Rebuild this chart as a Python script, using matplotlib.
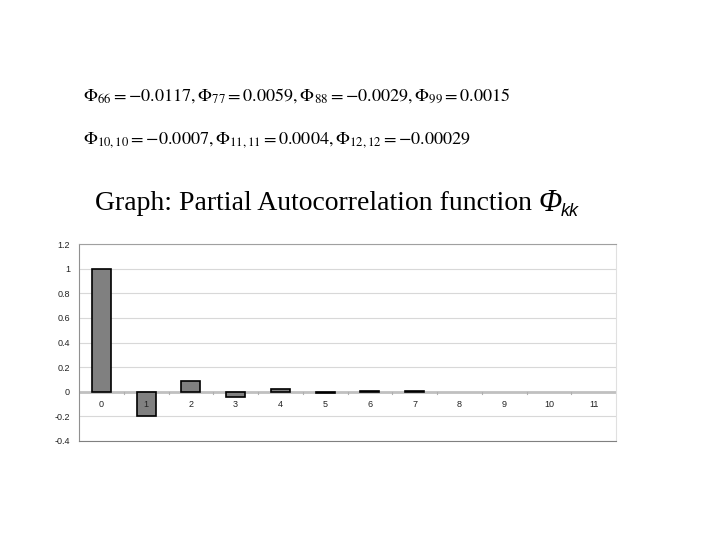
import matplotlib
matplotlib.use('Agg')
import matplotlib.pyplot as plt
import numpy as np

plt.rcParams['mathtext.fontset'] = 'stix'

# lags and partial autocorrelation values
lags = ['0', '1', '2', '3', '4', '5', '6', '7', '8', '9', '10', '11']
pacf = [1.0, -0.2, 0.09, -0.045, 0.022, -0.0117, 0.0059, 0.0029, 0, 0, 0, 0]
yticks = [-0.4, -0.2, 0, 0.2, 0.4, 0.6, 0.8, 1, 1.2]

line1 = r'$\Phi_{66} = -0.0117, \Phi_{77} = 0.0059, \Phi_{88} = -0.0029, \Phi_{99} = 0.0015$'
line2 = r'$\Phi_{10,10} = -0.0007, \Phi_{11,11} = 0.0004, \Phi_{12,12} = -0.00029$'

fig = plt.figure(figsize=(7.2, 5.4), dpi=100)

fig.text(83 / 720, 1 - 96 / 540, line1, fontsize=13.1, va='center', ha='left')
fig.text(83 / 720, 1 - 140 / 540, line2, fontsize=13.1, va='center', ha='left')
title = fig.text(95 / 720, 1 - 203 / 540, 'Graph: Partial Autocorrelation function',
                 fontsize=20, family='Liberation Serif', va='center', ha='left')
fig.canvas.draw()
bb = title.get_window_extent()
phi = fig.text((bb.x1 + 6) / 720, 1 - 203 / 540, 'Φ', fontsize=22, style='italic',
               family='Liberation Serif', va='center', ha='left')
fig.canvas.draw()
pb = phi.get_window_extent()
fig.text((pb.x1 - 1) / 720, 1 - 212 / 540, 'kk', fontsize=13, style='italic',
         family='Liberation Sans', va='center', ha='left')

# axes box in pixels: x 79..616, y 244..441
ax = fig.add_axes([79 / 720, 1 - 441 / 540, (616 - 79) / 720, (441 - 244) / 540])

x = np.arange(len(lags))
lw = [1.2 if v != 0 else 0 for v in pacf]
ax.bar(x, pacf, width=0.43, color='#808080', edgecolor='black', linewidth=lw, zorder=3)

ax.set_ylim(-0.4, 1.2)
ax.set_xlim(-0.5, len(lags) - 0.5)
ax.set_yticks(yticks)
ax.set_yticklabels([('%g' % t) for t in yticks], fontsize=6.5, family='Liberation Sans', color='#222222')
ax.yaxis.grid(True, color='#d8d8d8', linewidth=0.8, zorder=0)
ax.axhline(0, color='#c0c0c0', linewidth=2, zorder=2)
ax.tick_params(axis='y', length=0, pad=6.5)

# lag labels just below the zero line
ax.set_xticks([])
for xi, lab in zip(x, lags):
    ax.text(xi, -0.07, lab, ha='center', va='top', fontsize=6.5,
            family='Liberation Sans', color='#222222')
for b in np.arange(0.5, len(lags) - 0.5, 1):
    ax.plot([b, b], [0, -0.015], color='#b0b0b0', linewidth=0.8, zorder=2)

ax.spines['left'].set_color('#909090')
ax.spines['bottom'].set_color('#808080')
ax.spines['top'].set_color('#a0a0a0')
ax.spines['right'].set_color('#e0e0e0')

plt.savefig('out.png', dpi=100)
